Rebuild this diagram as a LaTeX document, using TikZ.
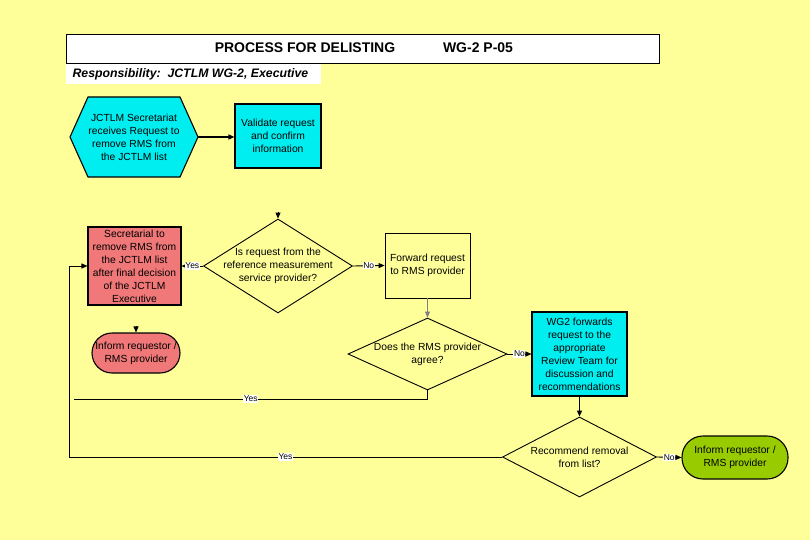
\documentclass[tikz,border=0pt]{standalone}
\usepackage{fontspec}
\setmainfont{Liberation Sans}
\usetikzlibrary{shapes.geometric,arrows.meta}
\definecolor{bg}{RGB}{255,255,153}
\definecolor{cy}{RGB}{0,238,240}
\definecolor{rd}{RGB}{240,120,120}
\definecolor{gr}{RGB}{153,204,0}
\begin{document}
\begin{tikzpicture}[x=1pt,y=-1pt,
  txt/.style={font=\fontsize{10.3}{13}\selectfont, align=center},
  box/.style={txt, draw, line width=1.1pt, inner sep=0pt},
  dia/.style={diamond, draw, line width=0.9pt, inner sep=0pt},
  term/.style={txt, draw, line width=1.1pt, inner sep=0pt, rounded corners=20pt},
  arr/.style={-{Triangle[length=6pt,width=5pt]}, line width=0.9pt},
  lab/.style={fill=white, inner sep=0.6pt, font=\fontsize{8.5}{9}\selectfont}]
\useasboundingbox (0,0) rectangle (810,540);
\fill[bg] (0,0) rectangle (810,540);
% header
\node[draw, fill=white, line width=0.8pt, minimum width=593pt, minimum height=29pt, anchor=north west] (title) at (66,34) {};
\node[font=\bfseries\fontsize{14}{16}\selectfont] (t1) at (305,47.5) {PROCESS FOR DELISTING};
\node[font=\bfseries\fontsize{14}{16}\selectfont] (t2) at (478,47.5) {WG-2 P-05};
\node[fill=white, minimum width=255pt, minimum height=20pt, anchor=north west] (resp) at (66,64) {};
\node[font=\bfseries\itshape\fontsize{12.3}{14}\selectfont, anchor=west] (respt) at (69,74) {Responsibility:\ \ JCTLM WG-2, Executive};
% hexagon
\filldraw[fill=cy, line width=1.1pt] (70,137) -- (88,97) -- (180,97) -- (198,137) -- (180,177) -- (88,177) -- cycle;
\node[txt, minimum width=128pt, minimum height=80pt, inner sep=0pt] (hex) at (134,137)
  {JCTLM Secretariat\\receives Request to\\remove RMS from\\the JCTLM list};
\node[box, fill=cy, minimum width=86pt, minimum height=64pt] (val) at (278,136)
  {Validate request\\and confirm\\information};
% row 2
\node[box, fill=rd, minimum width=93pt, minimum height=78pt] (red) at (134.5,266)
  {Secretarial to\\remove RMS from\\the JCTLM list\\after final decision\\of the JCTLM\\Executive};
\node[dia, minimum width=149pt, minimum height=94pt,
  label={[txt]center:Is request from the\\reference measurement\\service provider?}] (d1) at (278,266) {};
\node[box, fill=bg, line width=0.8pt, minimum width=85pt, minimum height=65pt] (fwd) at (427.5,265.5)
  {Forward request\\to RMS provider};
\node[term, fill=rd, minimum width=88pt, minimum height=40pt] (inf1) at (136,353)
  {Inform requestor /\\RMS provider};
\node[dia, minimum width=159pt, minimum height=72pt,
  label={[txt]center:Does the RMS provider\\agree?}] (d2) at (427.5,354) {};
\node[box, fill=cy, minimum width=95pt, minimum height=84pt] (wg2) at (579.5,354)
  {WG2 forwards\\request to the\\appropriate\\Review Team for\\discussion and\\recommendations};
\node[dia, minimum width=154pt, minimum height=80pt,
  label={[txt]center:Recommend removal\\from list?}] (d3) at (579.5,457) {};
\node[term, fill=gr, minimum width=106pt, minimum height=43pt, rounded corners=21pt] (inf2) at (735,457.5)
  {Inform requestor /\\RMS provider};
% connectors
\coordinate (d1a) at (278,212);
\coordinate (inf1a) at (136,326);
\coordinate (lc) at (69,457);
\coordinate (d2b) at (427.5,399);
\coordinate (yend) at (74,399);
\draw[arr, line width=1.4pt] (hex.east) -- (hex.east -| val.west);
\draw[arr] (d1a) -- (d1.north);
\draw[arr] (inf1a) -- (inf1.north);
\draw[arr] (d1.west) -- node[lab]{Yes} (red.east);
\draw[arr] (d1.east) -- node[lab]{No} (fwd.west);
\draw[arr, draw=gray] (fwd.south) -- (d2.north);
\draw[arr] (d2.east) -- node[lab]{No} (wg2.west);
\draw[arr, line width=1.2pt] (wg2.south) -- (d3.north);
\draw[arr] (d3.east) -- node[lab]{No} (inf2.west);
\draw[arr] (d3.west) -- node[lab]{Yes} (lc) |- (red.west);
\draw[line width=0.9pt] (d2.south) -- (d2b) -- node[lab]{Yes} (yend);
\end{tikzpicture}
\end{document}
